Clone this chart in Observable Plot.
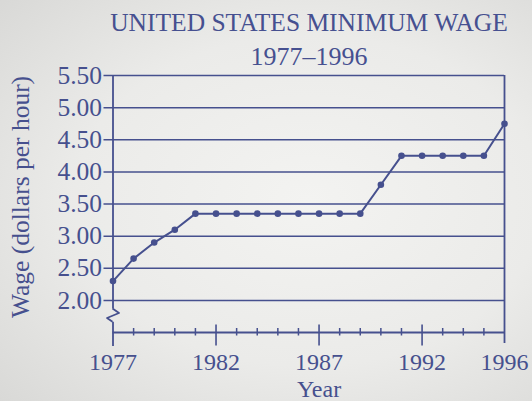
<!DOCTYPE html>
<html><head><meta charset="utf-8">
<script src="https://cdn.jsdelivr.net/npm/d3@7"></script>
<script src="https://cdn.jsdelivr.net/npm/@observablehq/plot@0.6"></script>
<style>
html,body{margin:0;padding:0;}
#wrap{position:relative;width:532px;height:401px;overflow:hidden;
 background: radial-gradient(ellipse 80% 75% at 58% 50%, #f3f3f1 0%, #ebebe9 55%, #d8d8d6 100%);
 font-family:"Liberation Serif","Times New Roman",Times,serif;color:#465090;}
.t{position:absolute;left:309px;transform:translateX(-50%);white-space:nowrap;font-size:25.5px;line-height:25px;}
#chart{position:absolute;left:0;top:60px;}
</style></head><body>
<div id="wrap">
<div class="t" style="top:10px">UNITED STATES MINIMUM WAGE</div>
<div class="t" style="top:44px;font-size:26px">1977–1996</div>
<div id="chart"></div>
</div>
<script>
const years = [1977,1978,1979,1980,1981,1982,1983,1984,1985,1986,1987,1988,1989,1990,1991,1992,1993,1994,1995,1996];
const wages = [2.30,2.65,2.90,3.10,3.35,3.35,3.35,3.35,3.35,3.35,3.35,3.35,3.35,3.80,4.25,4.25,4.25,4.25,4.25,4.75];
const yTicks = [2.00,2.50,3.00,3.50,4.00,4.50,5.00,5.50];
const xLabels = [1977,1982,1987,1992,1996];
const yDomain = [1.5, 5.5];

const data = years.map((year, i) => ({year, wage: wages[i]}));
const minorYears = years.filter(y => !xLabels.includes(y));
const midMajors = xLabels.slice(1, -1);
const x0 = years[0], x1 = years[years.length - 1];
const ink = "#46508e";
const font = '"Liberation Serif","Times New Roman",Times,serif';

// axis break glyph on the y axis, drawn through the scales
function axisBreak(index, scales, values, dims) {
  const px = scales.x(x0);
  const yb = scales.y(yDomain[0]);
  const top = yb - 23.5;
  const p = d3.path();
  p.moveTo(px, top);
  p.lineTo(px + 6.5, top + 4.5);
  p.lineTo(px - 5.5, top + 9.5);
  p.lineTo(px, top + 13.3);
  return d3.create("svg:path")
    .attr("d", p.toString())
    .attr("fill", "none")
    .attr("stroke", ink)
    .attr("stroke-width", 1.8)
    .attr("stroke-linejoin", "round")
    .node();
}

const chart = Plot.plot({
  width: 532,
  height: 341,
  marginLeft: 112.5,
  marginRight: 28,
  marginTop: 15,
  marginBottom: 69,
  x: {domain: [x0, x1]},
  y: {domain: yDomain},
  style: {background: "transparent", fontFamily: font, color: ink, overflow: "visible"},
  marks: [
    Plot.ruleY(yTicks, {y: d => d, x1: x0, x2: x1, insetLeft: -9, stroke: ink, strokeWidth: 1.5}),
    Plot.ruleX([x0], {x: d => d, y1: yTicks[yTicks.length - 1], y2: yDomain[0] + 0.367, stroke: ink, strokeWidth: 1.8}),
    Plot.ruleX([x0], {x: d => d, y1: yDomain[0] + 0.159, y2: yDomain[0], insetBottom: -14, stroke: ink, strokeWidth: 1.8}),
    Plot.ruleX([x1], {x: d => d, y1: yTicks[yTicks.length - 1], y2: yDomain[0], insetBottom: -11, stroke: ink, strokeWidth: 1.8}),
    Plot.ruleY([yDomain[0]], {y: d => d, x1: x0, x2: x1, stroke: ink, strokeWidth: 1.8}),
    Plot.ruleX(minorYears, {x: d => d, y1: yDomain[0], y2: yDomain[0], insetTop: -4, insetBottom: -3.5, stroke: ink, strokeWidth: 1.5}),
    Plot.ruleX(midMajors, {x: d => d, y1: yDomain[0], y2: yDomain[0], insetTop: -7.5, insetBottom: -13.5, stroke: ink, strokeWidth: 1.6}),
    axisBreak,
    Plot.line(data, {x: "year", y: "wage", stroke: ink, strokeWidth: 2}),
    Plot.dot(data, {x: "year", y: "wage", r: 3.3, fill: ink}),
    Plot.axisY(yTicks, {tickSize: 0, tickPadding: 11, tickFormat: d => d.toFixed(2), fontSize: 25.5, fontFamily: font, label: null, fill: ink}),
    Plot.axisX(xLabels, {tickSize: 0, tickPadding: 20, tickFormat: d => String(d), fontSize: 24, fontFamily: font, label: null, fill: ink}),
    Plot.text(["Year"], {x: () => xLabels[2], frameAnchor: "bottom", lineAnchor: "bottom", textAnchor: "middle", dy: 64, fontSize: 24, fontFamily: font, fill: ink}),
    Plot.text(["Wage (dollars per hour)"], {frameAnchor: "left", rotate: -90, lineAnchor: "bottom", textAnchor: "middle", dx: -84.5, dy: -7, fontSize: 25.5, fontFamily: font, fill: ink})
  ]
});
document.getElementById("chart").appendChild(chart);
</script>
</body></html>
